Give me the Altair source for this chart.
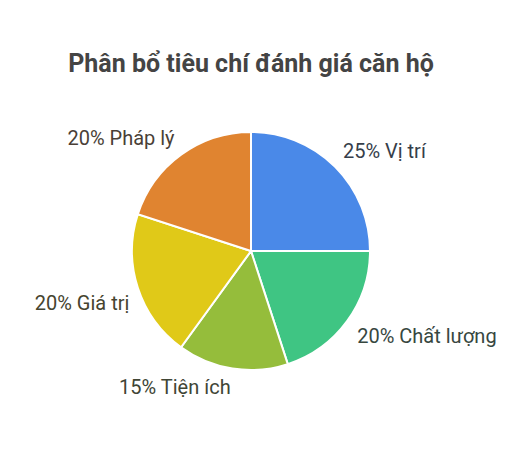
import altair as alt
import pandas as pd

# Dữ liệu
tieu_chi = ["Vị trí", "Chất lượng", "Tiện ích", "Giá trị", "Pháp lý"]
ty_le = [25, 20, 15, 20, 20]

# Kiểu dáng
mau = ["#4a89e8", "#3fc583", "#95bd3b", "#e0c918", "#e08430"]
mau_chu = ["#363e4a", "#37473f", "#404535", "#46442f", "#4a3f37"]

df = pd.DataFrame({"tieu_chi": tieu_chi, "ty_le": ty_le})
df["thu_tu"] = list(range(len(df)))
df["nhan"] = [f"{v}% {c}" for c, v in zip(tieu_chi, ty_le)]
df["mau_chu"] = mau_chu

base = alt.Chart(df).encode(
    theta=alt.Theta("ty_le:Q", stack=True),
    order=alt.Order("thu_tu:Q"),
)

pie = base.mark_arc(radius=119, stroke="white", strokeWidth=2).encode(
    color=alt.Color("tieu_chi:N", scale=alt.Scale(domain=tieu_chi, range=mau), legend=None)
)

label_styles = {
    "Vị trí": dict(align="left", baseline="bottom", dx=0, dy=3),
    "Chất lượng": dict(align="left", baseline="top", dx=1, dy=0),
    "Tiện ích": dict(align="right", baseline="top", dx=0, dy=-1),
    "Giá trị": dict(align="right", baseline="top", dx=2, dy=3),
    "Pháp lý": dict(align="right", baseline="bottom", dx=0, dy=3),
}

layers = [pie]
for name, st in label_styles.items():
    t = base.transform_calculate(
        hien=f"datum.tieu_chi == '{name}' ? datum.nhan : ''"
    ).mark_text(
        radius=130, fontSize=20, font="Roboto", **st
    ).encode(
        text="hien:N",
        color=alt.Color("mau_chu:N", scale=None),
    )
    layers.append(t)

chart = alt.layer(*layers).properties(
    width=486,
    height=340,
    padding={"left": 0, "top": 73, "right": 20, "bottom": 20},
    autosize=alt.AutoSizeParams(type="none"),
    title=alt.TitleParams(
        "Phân bổ tiêu chí đánh giá căn hộ",
        font="Roboto", fontSize=25, fontWeight="bold", color="#444444",
        anchor="middle", offset=4,
    ),
).configure_view(stroke=None)

chart.save("out.html", embed_options={"renderer": "svg", "actions": False})
